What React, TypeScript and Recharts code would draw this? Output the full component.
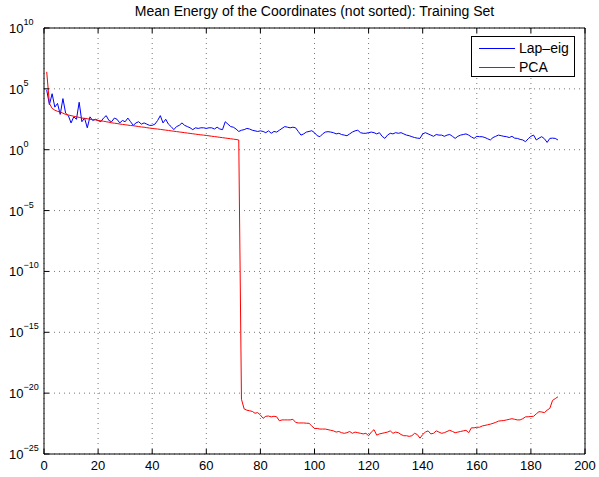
import React from "react";
import {
  CartesianGrid,
  Line,
  LineChart,
  XAxis,
  YAxis,
} from "recharts";

// log10 of the mean energy, coordinate index 1..190
const lapEig = [
  4.9, 3.7, 4.6, 3.5, 3.8, 2.9, 4.2, 3.0, 2.8, 2.2,
  2.7, 2.5, 3.9, 2.3, 2.6, 1.8, 2.7, 2.4, 2.5, 2.4,
  2.3, 2.6, 2.8, 2.4, 2.3, 2.6, 2.5, 2.2, 2.4, 2.3,
  2.6, 2.3, 2.0, 2.2, 2.3, 2.1, 2.2, 2.1, 2.0, 2.0,
  2.1, 2.4, 2.8, 2.2, 2.5, 2.1, 1.9, 1.65, 1.9, 2.0,
  2.2, 2.0, 1.9, 1.8, 1.65, 1.8, 1.75, 1.8, 1.8, 1.75,
  1.8, 1.8, 1.7, 1.85, 1.7, 1.65, 2.3, 2.1, 1.9, 1.85,
  1.7, 1.5, 1.6, 1.65, 1.75, 1.7, 1.6, 1.55, 1.5, 1.55,
  1.5, 1.4, 1.55, 1.35, 1.5, 1.45, 1.6, 1.75, 1.9, 1.85,
  1.8, 1.85, 1.8, 1.5, 1.2, 1.3, 1.45, 1.5, 1.56, 1.4,
  1.15, 1.07, 1.3, 1.45, 1.48, 1.45, 1.4, 1.3, 1.35, 1.25,
  1.2, 1.15, 1.3, 1.45, 1.55, 1.6, 1.4, 1.35, 1.35, 1.4,
  1.45, 1.4, 1.3, 1.4, 1.1, 0.93, 1.2, 1.35, 1.3, 1.4,
  1.35, 1.4, 1.3, 1.2, 1.15, 1.07, 1.0, 0.95, 0.93, 1.3,
  1.4, 1.3, 1.2, 1.1, 1.25, 1.2, 1.2, 1.1, 1.2, 1.25,
  1.1, 0.93, 1.1, 1.2, 1.25, 1.3, 1.2, 1.05, 0.93, 1.1,
  1.07, 1.07, 1.0, 0.9, 0.8, 1.0, 1.1, 1.2, 1.15, 1.1,
  1.07, 1.0, 1.1, 0.95, 0.93, 0.85, 0.8, 0.66, 0.9, 1.1,
  1.2, 0.8, 0.95, 1.07, 0.9, 0.6, 0.93, 0.95, 0.93, 0.8,
];

const pca = [
  6.4, 3.8, 3.4, 3.25, 3.15, 3.1, 3.0, 2.9, 2.85, 2.8,
  2.75, 2.7, 2.66, 2.6, 2.58, 2.55, 2.5, 2.48, 2.45, 2.4,
  2.38, 2.34, 2.3, 2.26, 2.21, 2.18, 2.15, 2.11, 2.08, 2.05,
  2.02, 1.99, 1.97, 1.94, 1.9, 1.87, 1.85, 1.81, 1.78, 1.75,
  1.72, 1.7, 1.67, 1.64, 1.61, 1.58, 1.55, 1.52, 1.49, 1.46,
  1.43, 1.4, 1.37, 1.34, 1.31, 1.28, 1.25, 1.22, 1.2, 1.17,
  1.14, 1.11, 1.08, 1.05, 1.02, 0.99, 0.96, 0.93, 0.9, 0.87,
  0.84, 0.8, -20.5, -21.3, -21.4, -21.45, -21.5, -21.65, -21.6, -21.8,
  -22.07, -21.9, -21.88, -21.95, -21.9, -21.94, -22.27, -22.2, -22.2, -22.2,
  -22.2, -22.15, -22.4, -22.45, -22.45, -22.45, -22.47, -22.48, -22.7, -22.9,
  -22.9, -22.95, -22.95, -22.95, -23.0, -23.05, -23.1, -23.2, -23.15, -23.25,
  -23.3, -23.25, -23.15, -23.3, -23.2, -23.25, -23.3, -23.35, -23.3, -23.5,
  -23.2, -23.0, -23.45, -23.35, -23.3, -23.25, -23.2, -23.1, -23.3, -23.2,
  -23.25, -23.4, -23.5, -23.5, -23.55, -23.5, -23.3, -23.4, -23.7, -23.4,
  -23.2, -23.1, -23.35, -23.3, -23.1, -23.2, -23.3, -23.25, -23.15, -23.05,
  -23.15, -23.25, -23.2, -23.15, -23.1, -23.05, -23.25, -22.85, -22.85, -22.8,
  -22.8, -22.7, -22.65, -22.6, -22.55, -22.48, -22.4, -22.3, -22.27, -22.25,
  -22.2, -22.15, -22.1, -22.15, -22.2, -22.2, -22.1, -21.95, -21.94, -21.92,
  -21.9, -21.7, -21.52, -21.55, -21.6, -21.4, -21.25, -20.6, -20.45, -20.3,
];

const xTicks = [0, 20, 40, 60, 80, 100, 120, 140, 160, 180, 200];
const yTicks = [-25, -20, -15, -10, -5, 0, 5, 10];
const seriesNames = ["Lap\u2013eig", "PCA"];
const seriesColors = ["#0000ff", "#ff0000"];

const data = lapEig.map((v, i) => ({ idx: i + 1, lap: v, pca: pca[i] }));

const FONT = "'Liberation Sans', Arial, Helvetica, sans-serif";

const BottomTick = ({ x, y, payload }: any) => (
  <g>
    <line x1={x} x2={x} y1={y} y2={y - 5} stroke="#000" />
    <text x={x} y={y + 16} textAnchor="middle" fontSize={13} fontFamily={FONT} fill="#000">
      {payload.value}
    </text>
  </g>
);

const TopTick = ({ x, y }: any) => (
  <line x1={x} x2={x} y1={y} y2={y + 5} stroke="#000" />
);

const LeftTick = ({ x, y, payload }: any) => (
  <g>
    <line x1={x} x2={x + 5} y1={y} y2={y} stroke="#000" />
    <text x={9} y={y + 5} fontSize={13} fontFamily={FONT} fill="#000">
      10
      <tspan dy={-8} fontSize={9}>
        {payload.value < 0 ? "\u2212" + Math.abs(payload.value) : payload.value}
      </tspan>
    </text>
  </g>
);

const RightTick = ({ x, y }: any) => (
  <line x1={x} x2={x - 5} y1={y} y2={y} stroke="#000" />
);

export default function App() {
  return (
    <div style={{ position: "absolute", left: 0, top: 0, width: 599, height: 477, background: "#fff" }}>
      <LineChart width={599} height={477} data={data} margin={{ top: 0, right: 0, bottom: 0, left: 0 }}>
        <CartesianGrid stroke="#777" strokeDasharray="1 4" />
        <XAxis
          dataKey="idx"
          type="number"
          domain={[0, 200]}
          ticks={xTicks}
          height={23}
          tickSize={0}
          tickMargin={0}
          tickLine={false}
          axisLine={{ stroke: "#000" }}
          tick={<BottomTick />}
          interval={0}
        />
        <XAxis
          xAxisId="top"
          orientation="top"
          dataKey="idx"
          type="number"
          domain={[0, 200]}
          ticks={xTicks}
          height={28}
          tickSize={0}
          tickMargin={0}
          tickLine={false}
          axisLine={{ stroke: "#000" }}
          tick={<TopTick />}
          interval={0}
        />
        <YAxis
          type="number"
          domain={[-25, 10]}
          ticks={yTicks}
          width={44}
          tickSize={0}
          tickMargin={0}
          tickLine={false}
          axisLine={{ stroke: "#000" }}
          tick={<LeftTick />}
          interval={0}
        />
        <YAxis
          yAxisId="right"
          orientation="right"
          type="number"
          domain={[-25, 10]}
          ticks={yTicks}
          width={14}
          tickSize={0}
          tickMargin={0}
          tickLine={false}
          axisLine={{ stroke: "#000" }}
          tick={<RightTick />}
          interval={0}
        />
        <Line dataKey="lap" name={seriesNames[0]} stroke={seriesColors[0]} strokeWidth={1} dot={false} isAnimationActive={false} type="linear" />
        <Line dataKey="pca" name={seriesNames[1]} stroke={seriesColors[1]} strokeWidth={1} dot={false} isAnimationActive={false} type="linear" />
      </LineChart>
      <div
        style={{
          position: "absolute",
          top: 3,
          left: 44,
          width: 541,
          textAlign: "center",
          fontFamily: FONT,
          fontSize: 14,
          lineHeight: "16px",
        }}
      >
        Mean Energy of the Coordinates (not sorted): Training Set
      </div>
      <svg
        width={104}
        height={41}
        style={{ position: "absolute", left: 471, top: 36 }}
      >
        <rect x={0.5} y={0.5} width={103} height={40} fill="#fff" stroke="#000" />
        {seriesNames.map((name, i) => (
          <g key={name}>
            <line
              x1={8}
              x2={44}
              y1={12.5 + i * 19}
              y2={12.5 + i * 19}
              stroke={seriesColors[i]}
              strokeWidth={1.2}
            />
            <text x={48} y={17 + i * 19} fontSize={14} fontFamily={FONT} fill="#000">
              {name}
            </text>
          </g>
        ))}
      </svg>
    </div>
  );
}
